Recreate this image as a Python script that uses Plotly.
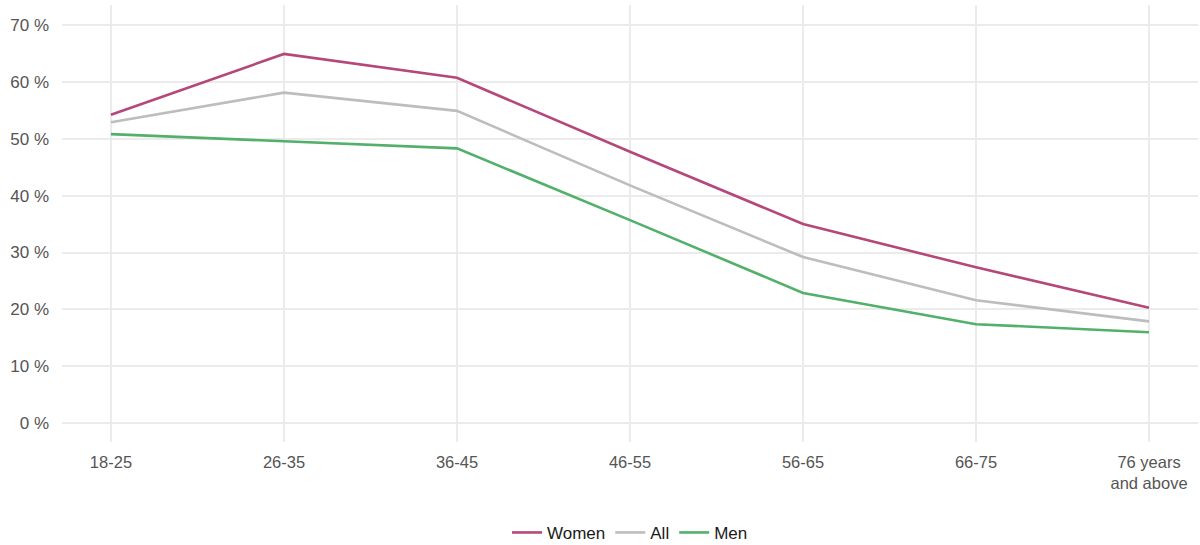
import plotly.graph_objects as go

categories = ["18-25", "26-35", "36-45", "46-55", "56-65", "66-75", "76 years<br>and above"]
women = [54.2, 64.9, 60.7, 47.7, 35.0, 27.4, 20.3]
all_ = [52.9, 58.1, 54.9, 41.8, 29.2, 21.6, 17.9]
men = [50.8, 49.6, 48.3, 35.7, 22.9, 17.4, 16.0]
y_ticks = [0, 10, 20, 30, 40, 50, 60, 70]
y_labels = ["0 %", "10 %", "20 %", "30 %", "40 %", "50 %", "60 %", "70 %"]

series = [("Women", women, "#b5487a"), ("All", all_, "#bdbdbd"), ("Men", men, "#52b06a")]

fig = go.Figure()
for name, vals, col in series:
    fig.add_trace(go.Scatter(x=list(range(len(categories))), y=vals, name=name, mode="lines",
                             line=dict(color=col, width=2.6)))

fig.update_layout(
    width=1200, height=545,
    margin=dict(l=62, r=2, t=5, b=103, autoexpand=False),
    plot_bgcolor="white", paper_bgcolor="white",
    font=dict(family="Liberation Sans, Arial, sans-serif", size=17, color="#555555"),
    xaxis=dict(tickmode="array", tickvals=list(range(len(categories))), ticktext=categories,
               range=[-0.283, 6.283], showgrid=True, gridcolor="#ebebeb", gridwidth=1.8,
               zeroline=False, showline=False, ticks="", automargin=False,
               ticklabelstandoff=8, tickfont=dict(size=16.5, color="#555555")),
    yaxis=dict(range=[-3.3, 73.5], tickmode="array", tickvals=y_ticks, ticktext=y_labels,
               showgrid=True, gridcolor="#ebebeb", gridwidth=1.8, zeroline=False, showline=False,
               ticks="", automargin=False, ticklabelstandoff=12,
               tickfont=dict(size=17, color="#555555")),
    legend=dict(orientation="h", x=0.5, xanchor="center", y=-0.208, yanchor="middle",
                font=dict(size=17, color="#1a1a1a"), tracegroupgap=0),
    showlegend=True,
)

fig.write_html("out.html", config={"displayModeBar": False},
               post_script="document.body.style.margin='0';document.body.style.overflow='hidden';")
